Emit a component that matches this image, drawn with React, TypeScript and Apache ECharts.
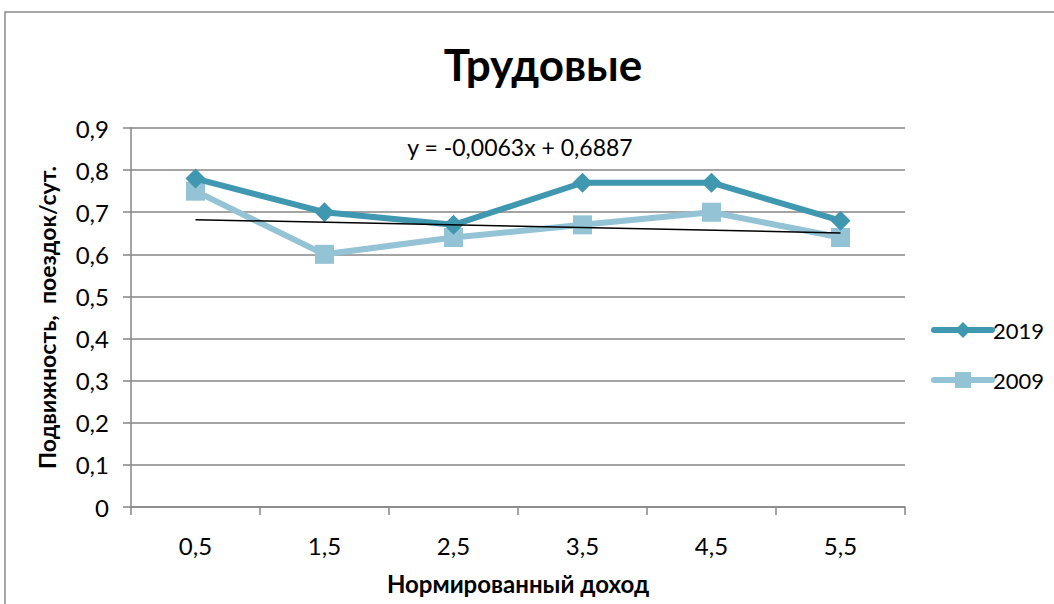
import React, { useEffect, useRef } from "react";
import * as echarts from "echarts";

const categories = ["0,5", "1,5", "2,5", "3,5", "4,5", "5,5"];
const values2019 = [0.78, 0.7, 0.67, 0.77, 0.77, 0.68];
const values2009 = [0.75, 0.6, 0.64, 0.67, 0.7, 0.64];
const trendValues = [0.6824, null, null, null, null, 0.6509];
const yTicks = { min: 0, max: 0.9, interval: 0.1 };
const titleText = "Трудовые";
const equationText = "y = -0,0063x + 0,6887";
const yName = "Подвижность,  поездок/сут.";
const xName = "Нормированный доход";

const FONT = "Lato, 'Open Sans', sans-serif";
const C2019 = "#4097b0";
const C2009 = "#93c3d5";

export default function App() {
  const ref = useRef<HTMLDivElement>(null);
  useEffect(() => {
    document.body.style.margin = "0";
    const chart = echarts.init(ref.current!, null, { renderer: "svg" });
    chart.setOption({
      animation: false,
      backgroundColor: "#ffffff",
      textStyle: { fontFamily: FONT },
      title: {
        text: titleText,
        left: 538,
        top: 37,
        textAlign: "center",
        textStyle: { fontSize: 44, fontWeight: "bold", color: "#000", fontFamily: FONT },
      },
      graphic: [
        {
          type: "rect",
          shape: { x: 5, y: 12, width: 1200, height: 800 },
          style: { fill: "none", stroke: "#8a8a8a", lineWidth: 1.5 },
          silent: true,
        },
        {
          type: "text",
          x: 520,
          y: 147,
          style: {
            text: equationText,
            fontSize: 23,
            fontFamily: FONT,
            fill: "#000",
            align: "center",
            verticalAlign: "middle",
          },
        },
      ],
      legend: {
        orient: "vertical",
        left: 926,
        top: 314,
        itemWidth: 58,
        itemHeight: 20,
        itemGap: 28,
        data: [
          { name: "2019", lineStyle: { width: 6, color: C2019 } },
          { name: "2009", lineStyle: { width: 6, color: C2009 } },
        ],
        textStyle: { fontSize: 22, color: "#000", fontFamily: FONT, padding: [0, 0, 0, -4] },
      },
      grid: { left: 131, right: 149, top: 128, bottom: 97 },
      xAxis: {
        type: "category",
        data: categories,
        boundaryGap: true,
        name: xName,
        nameLocation: "middle",
        nameGap: 64,
        nameTextStyle: { fontSize: 24, fontWeight: "bold", color: "#000", fontFamily: FONT },
        axisLine: { lineStyle: { color: "#868686", width: 1.5 } },
        axisTick: { show: true, length: 8, lineStyle: { color: "#868686", width: 1.5 } },
        axisLabel: { fontSize: 24, color: "#000", margin: 26, fontFamily: FONT },
        splitLine: { show: false },
      },
      yAxis: {
        type: "value",
        min: yTicks.min,
        max: yTicks.max,
        interval: yTicks.interval,
        name: yName,
        nameLocation: "middle",
        nameGap: 73,
        nameTextStyle: { fontSize: 23, fontWeight: "bold", color: "#000", fontFamily: FONT },
        axisLine: { show: true, lineStyle: { color: "#868686", width: 1.5 } },
        axisTick: { show: true, length: 8, lineStyle: { color: "#868686", width: 1.5 } },
        axisLabel: {
          fontSize: 24,
          color: "#000",
          margin: 22,
          fontFamily: FONT,
          formatter: (v: number) => String(Math.round(v * 10) / 10).replace(".", ","),
        },
        splitLine: { show: true, lineStyle: { color: "#868686", width: 1.5 } },
      },
      series: [
        {
          name: "2019",
          type: "line",
          data: values2019,
          symbol: "diamond",
          symbolSize: 20,
          itemStyle: { color: C2019 },
          lineStyle: { color: C2019, width: 6, cap: "round" },
          z: 3,
        },
        {
          name: "2009",
          type: "line",
          data: values2009,
          symbol: "rect",
          symbolSize: 19,
          itemStyle: { color: C2009 },
          lineStyle: { color: C2009, width: 6, cap: "round" },
          z: 2,
        },
        {
          name: "trend",
          type: "line",
          data: trendValues,
          connectNulls: true,
          symbol: "none",
          lineStyle: { color: "#000", width: 1.5 },
          z: 4,
          silent: true,
        },
      ],
    });
    return () => chart.dispose();
  }, []);
  return <div ref={ref} style={{ width: 1054, height: 604 }} />;
}
